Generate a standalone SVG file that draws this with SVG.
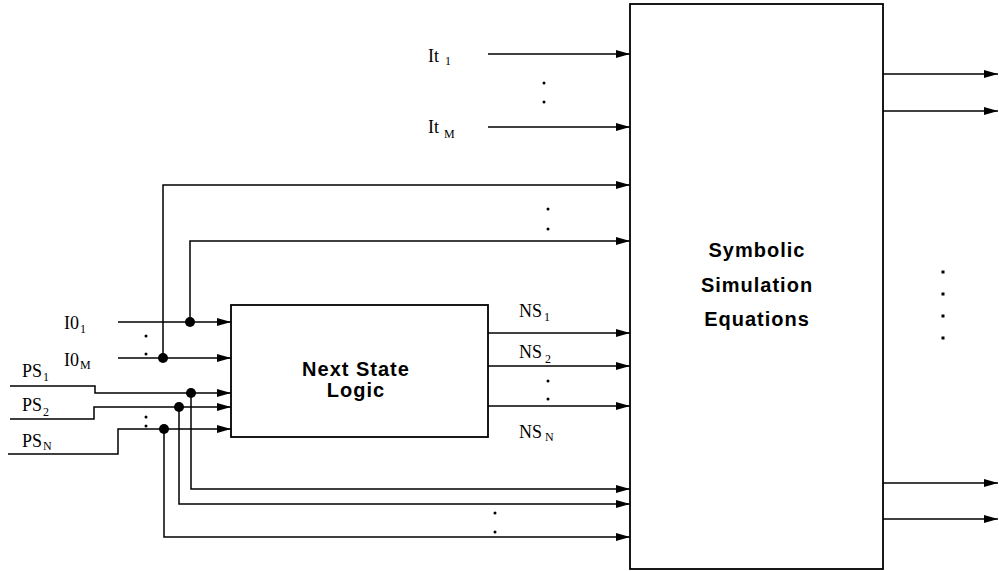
<svg xmlns="http://www.w3.org/2000/svg" width="999" height="571" viewBox="0 0 999 571">
<style>
.box{fill:#fff;stroke:#000;stroke-width:1.8}
.w{fill:none;stroke:#000;stroke-width:1.5}
.a{marker-end:url(#arr)}
.lab{font-family:"Liberation Serif",serif;font-size:18px;fill:#000}
.sub{font-family:"Liberation Serif",serif;font-size:12px;fill:#000}
.title{font-family:"Liberation Sans",Arial,sans-serif;font-size:20px;font-weight:bold;letter-spacing:1px;fill:#000;text-anchor:middle}
.dot{fill:#000}
</style>
<defs>
<marker id="arr" markerUnits="userSpaceOnUse" markerWidth="14" markerHeight="8" refX="14" refY="4" orient="auto">
<path d="M0,0 L14,4 L0,8 z" fill="#000"/>
</marker>
</defs>
<rect width="999" height="571" fill="#fff"/>
<g id="connectors">
<path class="w a" d="M488,54 H630"/>
<path class="w a" d="M488,127 H630"/>
<path class="w a" d="M163,358 V185 H630"/>
<path class="w a" d="M190,322 V241 H630"/>
<path class="w a" d="M118,322 H231"/>
<path class="w a" d="M118,358 H231"/>
<path class="w a" d="M10,386 H95 V393 H231"/>
<path class="w a" d="M10,419 H94 V407 H231"/>
<path class="w a" d="M8,454 H118 V429 H231"/>
<path class="w a" d="M191,393 V489 H630"/>
<path class="w a" d="M179,407 V504 H630"/>
<path class="w a" d="M164,429 V537 H630"/>
<path class="w a" d="M488,333 H630"/>
<path class="w a" d="M488,366 H630"/>
<path class="w a" d="M488,406 H630"/>
<path class="w a" d="M883,74 H998"/>
<path class="w a" d="M883,111 H998"/>
<path class="w a" d="M883,483 H998"/>
<path class="w a" d="M883,519 H998"/>
<circle class="dot" cx="190" cy="322" r="5"/>
<circle class="dot" cx="163" cy="358" r="5"/>
<circle class="dot" cx="191" cy="393" r="5"/>
<circle class="dot" cx="179" cy="407" r="5"/>
<circle class="dot" cx="164" cy="429" r="5"/>
</g>
<g id="ssim">
<rect class="box" x="630" y="4" width="253" height="565"/>
<text class="title" x="757" y="257">Symbolic</text>
<text class="title" x="757" y="292">Simulation</text>
<text class="title" x="757" y="326">Equations</text>
</g>
<g id="nsl">
<rect class="box" x="231" y="305" width="257" height="132"/>
<text class="title" x="356" y="376">Next State</text>
<text class="title" x="356" y="397">Logic</text>
</g>
<g id="labels">
<text class="lab" x="428" y="62">It</text><text class="sub" x="445" y="65">1</text>
<text class="lab" x="428" y="133">It</text><text class="sub" x="444" y="138">M</text>
<text class="lab" x="64" y="329">I0</text><text class="sub" x="80" y="333">1</text>
<text class="lab" x="64" y="366">I0</text><text class="sub" x="80" y="369">M</text>
<text class="lab" x="22" y="377">PS</text><text class="sub" x="43" y="381">1</text>
<text class="lab" x="22" y="411">PS</text><text class="sub" x="43" y="416">2</text>
<text class="lab" x="22" y="447">PS</text><text class="sub" x="43" y="450">N</text>
<text class="lab" x="519" y="317">NS</text><text class="sub" x="544" y="321">1</text>
<text class="lab" x="519" y="358">NS</text><text class="sub" x="545" y="363">2</text>
<text class="lab" x="519" y="438">NS</text><text class="sub" x="545" y="441">N</text>
</g>
<g id="ellipses" class="dot">
<circle cx="544" cy="83" r="1.5"/><circle cx="544" cy="102" r="1.5"/>
<circle cx="548" cy="209" r="1.5"/><circle cx="548" cy="229" r="1.5"/>
<circle cx="146" cy="336" r="1.5"/><circle cx="146" cy="354" r="1.5"/>
<circle cx="146" cy="417" r="1.5"/><circle cx="146" cy="426" r="1.5"/>
<circle cx="548" cy="381" r="1.5"/><circle cx="548" cy="399" r="1.5"/>
<circle cx="495" cy="513" r="1.5"/><circle cx="495" cy="532" r="1.5"/>
<rect x="941.5" y="270.5" width="3" height="3"/><rect x="941.5" y="292.5" width="3" height="3"/>
<rect x="941.5" y="314.5" width="3" height="3"/><rect x="941.5" y="336.5" width="3" height="3"/>
</g>
</svg>
